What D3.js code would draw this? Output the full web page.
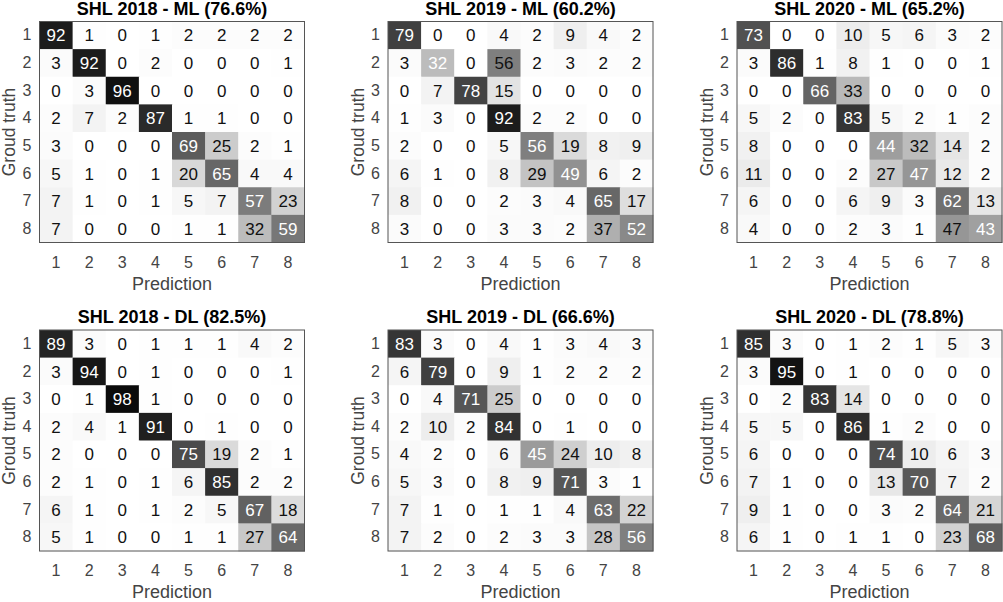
<!DOCTYPE html>
<html>
<head>
<meta charset="utf-8">
<script src="https://cdn.jsdelivr.net/npm/d3@7"></script>
<style>
  body { margin: 0; background: #fff; }
  text { font-family: "Liberation Sans", Arial, Helvetica, sans-serif; }
</style>
</head>
<body>
<div id="vis"></div>
<script>
// class labels (same for prediction and ground truth)
let classes = ['1', '2', '3', '4', '5', '6', '7', '8']

// panel titles, top row then bottom row
let titles = [
  'SHL 2018 - ML (76.6%)', 'SHL 2019 - ML (60.2%)', 'SHL 2020 - ML (65.2%)',
  'SHL 2018 - DL (82.5%)', 'SHL 2019 - DL (66.6%)', 'SHL 2020 - DL (78.8%)'
]

// confusion matrices (rows = ground truth, cols = prediction), in %
let shl2018ML = [
  [92, 1, 0, 1, 2, 2, 2, 2],
  [3, 92, 0, 2, 0, 0, 0, 1],
  [0, 3, 96, 0, 0, 0, 0, 0],
  [2, 7, 2, 87, 1, 1, 0, 0],
  [3, 0, 0, 0, 69, 25, 2, 1],
  [5, 1, 0, 1, 20, 65, 4, 4],
  [7, 1, 0, 1, 5, 7, 57, 23],
  [7, 0, 0, 0, 1, 1, 32, 59]
]
let shl2019ML = [
  [79, 0, 0, 4, 2, 9, 4, 2],
  [3, 32, 0, 56, 2, 3, 2, 2],
  [0, 7, 78, 15, 0, 0, 0, 0],
  [1, 3, 0, 92, 2, 2, 0, 0],
  [2, 0, 0, 5, 56, 19, 8, 9],
  [6, 1, 0, 8, 29, 49, 6, 2],
  [8, 0, 0, 2, 3, 4, 65, 17],
  [3, 0, 0, 3, 3, 2, 37, 52]
]
let shl2020ML = [
  [73, 0, 0, 10, 5, 6, 3, 2],
  [3, 86, 1, 8, 1, 0, 0, 1],
  [0, 0, 66, 33, 0, 0, 0, 0],
  [5, 2, 0, 83, 5, 2, 1, 2],
  [8, 0, 0, 0, 44, 32, 14, 2],
  [11, 0, 0, 2, 27, 47, 12, 2],
  [6, 0, 0, 6, 9, 3, 62, 13],
  [4, 0, 0, 2, 3, 1, 47, 43]
]
let shl2018DL = [
  [89, 3, 0, 1, 1, 1, 4, 2],
  [3, 94, 0, 1, 0, 0, 0, 1],
  [0, 1, 98, 1, 0, 0, 0, 0],
  [2, 4, 1, 91, 0, 1, 0, 0],
  [2, 0, 0, 0, 75, 19, 2, 1],
  [2, 1, 0, 1, 6, 85, 2, 2],
  [6, 1, 0, 1, 2, 5, 67, 18],
  [5, 1, 0, 0, 1, 1, 27, 64]
]
let shl2019DL = [
  [83, 3, 0, 4, 1, 3, 4, 3],
  [6, 79, 0, 9, 1, 2, 2, 2],
  [0, 4, 71, 25, 0, 0, 0, 0],
  [2, 10, 2, 84, 0, 1, 0, 0],
  [4, 2, 0, 6, 45, 24, 10, 8],
  [5, 3, 0, 8, 9, 71, 3, 1],
  [7, 1, 0, 1, 1, 4, 63, 22],
  [7, 2, 0, 2, 3, 3, 28, 56]
]
let shl2020DL = [
  [85, 3, 0, 1, 2, 1, 5, 3],
  [3, 95, 0, 1, 0, 0, 0, 0],
  [0, 2, 83, 14, 0, 0, 0, 0],
  [5, 5, 0, 86, 1, 2, 0, 0],
  [6, 0, 0, 0, 74, 10, 6, 3],
  [7, 1, 0, 0, 13, 70, 7, 2],
  [9, 1, 0, 0, 3, 2, 64, 21],
  [6, 1, 0, 1, 1, 0, 23, 68]
]

let matrices = [shl2018ML, shl2019ML, shl2020ML, shl2018DL, shl2019DL, shl2020DL]

// layout
let boxW = 265, boxH = 221
let colLefts = [39.5, 388, 737]
let rowTops = [21.5, 330]

let svg = d3.select('#vis')
  .append('svg')
  .attr('width', 1003)
  .attr('height', 602)
  .style('background-color', 'white')

// gray colormap, white at 0 and black at 100
let shade = d3.scalePow().exponent(1.15).domain([0, 100]).range([255, 5])
function cellColor(v) {
  let g = Math.round(shade(v))
  return d3.rgb(g, g, g)
}

let x = d3.scaleBand().domain(classes).range([0, boxW])
let y = d3.scaleBand().domain(classes).range([0, boxH])

matrices.forEach(function (m, i) {
  let g = svg.append('g')
    .attr('transform', 'translate(' + colLefts[i % 3] + ',' + rowTops[Math.floor(i / 3)] + ')')

  // flatten cells
  let cells = []
  m.forEach(function (row, r) {
    row.forEach(function (v, c) {
      cells.push({ r: classes[r], c: classes[c], v: v, diag: r === c })
    })
  })

  g.selectAll('rect.cell')
    .data(cells)
    .join('rect')
    .attr('class', 'cell')
    .attr('x', d => x(d.c))
    .attr('y', d => y(d.r))
    .attr('width', x.bandwidth() + 0.5)
    .attr('height', y.bandwidth() + 0.5)
    .attr('fill', d => cellColor(d.v))

  g.selectAll('text.val')
    .data(cells)
    .join('text')
    .attr('class', 'val')
    .attr('x', d => x(d.c) + x.bandwidth() / 2)
    .attr('y', d => y(d.r) + y.bandwidth() / 2)
    .attr('dy', '0.36em')
    .attr('text-anchor', 'middle')
    .attr('font-size', 17)
    .attr('fill', d => d.diag ? '#ffffff' : '#111111')
    .text(d => d.v)

  // box outline
  g.append('rect')
    .attr('x', 0)
    .attr('y', 0)
    .attr('width', boxW)
    .attr('height', boxH)
    .attr('fill', 'none')
    .attr('stroke', '#555')
    .attr('stroke-width', 1)

  // axes
  let xAxis = g.append('g')
    .attr('transform', 'translate(0,' + boxH + ')')
    .call(d3.axisBottom(x).tickSize(0).tickPadding(14))
  let yAxis = g.append('g')
    .call(d3.axisLeft(y).tickSize(0).tickPadding(8))
  ;[xAxis, yAxis].forEach(function (a) {
    a.select('.domain').remove()
    a.selectAll('text')
      .attr('font-size', 16)
      .attr('fill', '#444')
      .style('font-family', '"Liberation Sans", Arial, Helvetica, sans-serif')
  })

  // title
  g.append('text')
    .attr('x', boxW / 2)
    .attr('y', -7)
    .attr('text-anchor', 'middle')
    .attr('font-size', 18)
    .attr('font-weight', 'bold')
    .attr('fill', '#000')
    .text(titles[i])

  // axis labels
  g.append('text')
    .attr('x', boxW / 2)
    .attr('y', boxH + 47)
    .attr('text-anchor', 'middle')
    .attr('font-size', 18)
    .attr('fill', '#444')
    .text('Prediction')

  g.append('text')
    .attr('transform', 'translate(-30.5,' + boxH / 2 + ') rotate(-90)')
    .attr('dy', '0.35em')
    .attr('text-anchor', 'middle')
    .attr('font-size', 17.5)
    .attr('fill', '#444')
    .text('Groud truth')
})
</script>
</body>
</html>
